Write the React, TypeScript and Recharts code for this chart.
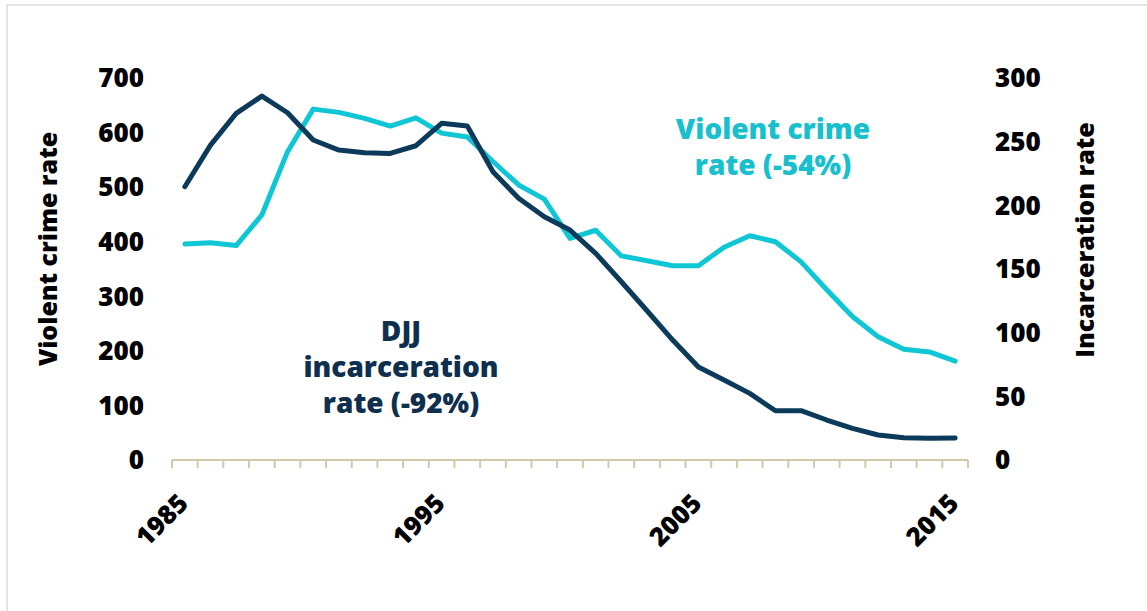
import { LineChart, Line, XAxis, YAxis } from 'recharts'

const years = [
  1985, 1986, 1987, 1988, 1989, 1990, 1991, 1992, 1993, 1994, 1995, 1996, 1997, 1998, 1999, 2000,
  2001, 2002, 2003, 2004, 2005, 2006, 2007, 2008, 2009, 2010, 2011, 2012, 2013, 2014, 2015,
]

// violent crime rate, left axis
const violentCrime = [
  396, 398, 393, 449, 565, 643, 637, 626, 612, 627, 599, 592, 547, 504, 478, 406,
  421, 374, 365, 356, 356, 390, 411, 400, 363, 312, 263, 226, 203, 198, 181,
]

// DJJ incarceration rate, right axis
const incarceration = [
  214.6, 247.3, 272.2, 285.8, 272.7, 251.3, 243.4, 241.3, 240.8, 246.8, 264.4, 262.3, 226.4, 205.5,
  191, 180.6, 162.3, 140, 117.2, 94.2, 73, 62.8, 52.3, 38.7, 38.7, 31.4, 24.8, 19.6, 17.5, 17, 17.2,
]

const leftTicks = [0, 100, 200, 300, 400, 500, 600, 700]
const rightTicks = [0, 50, 100, 150, 200, 250, 300]
const yearLabels = [1985, 1995, 2005, 2015]
// tick marks sit between the categories, like the source chart
const tickMarks = [...years.map((y) => y - 0.5), 2015.5]

const data = years.map((year, i) => ({
  year,
  crime: violentCrime[i],
  djj: incarceration[i],
}))

const FONT = "'Open Sans', sans-serif"
const CYAN = '#0fc6d4'
const NAVY = '#0c3a5b'
const AXIS = '#d2c9a7'

const tickStyle = { fill: '#000', fontSize: 26, fontWeight: 800, fontFamily: FONT }

function YearTick({ x, y, payload }: any) {
  const tx = x + 5
  const ty = y + 35
  return (
    <text
      x={tx}
      y={ty}
      transform={`rotate(-45, ${tx}, ${ty})`}
      textAnchor="end"
      fill="#000"
      fontSize={26}
      fontWeight={800}
      fontFamily={FONT}
    >
      {payload.value}
    </text>
  )
}

const NoLabel = () => <g />

export default function App() {
  return (
    <div style={{ position: 'absolute', left: 0, top: 0, width: 1147, height: 611, background: '#fff', overflow: 'hidden' }}>
      <div
        style={{
          position: 'absolute',
          left: 6,
          top: 4,
          width: 1200,
          height: 700,
          borderTop: '2px solid #e4e4e4',
          borderLeft: '2px solid #e4e4e4',
        }}
      />
      <LineChart
        width={1147}
        height={611}
        data={data}
        margin={{ top: 78, right: 79, bottom: 81, left: 72 }}
        style={{ position: 'absolute', left: 0, top: 0 }}
      >
        <XAxis
          xAxisId="marks"
          dataKey="year"
          type="number"
          domain={[1984.5, 2015.5]}
          allowDataOverflow
          ticks={tickMarks}
          interval={0}
          tick={<NoLabel />}
          tickSize={8}
          height={10}
          axisLine={{ stroke: AXIS, strokeWidth: 2 }}
          tickLine={{ stroke: AXIS, strokeWidth: 2 }}
        />
        <XAxis
          xAxisId="yr"
          dataKey="year"
          type="number"
          domain={[1984.5, 2015.5]}
          allowDataOverflow
          ticks={yearLabels}
          interval={0}
          tick={<YearTick />}
          tickSize={0}
          tickMargin={0}
          height={60}
          axisLine={false}
          tickLine={false}
        />
        <YAxis
          yAxisId="left"
          domain={[0, 700]}
          ticks={leftTicks}
          interval={0}
          width={100}
          axisLine={false}
          tickLine={false}
          tickSize={0}
          tickMargin={28}
          tick={tickStyle}
        />
        <YAxis
          yAxisId="right"
          orientation="right"
          domain={[0, 300]}
          ticks={rightTicks}
          interval={0}
          width={100}
          axisLine={false}
          tickLine={false}
          tickSize={0}
          tickMargin={27}
          tick={{ ...tickStyle, textAnchor: 'start' }}
        />
        <Line
          xAxisId="yr"
          yAxisId="left"
          dataKey="crime"
          type="linear"
          stroke={CYAN}
          strokeWidth={5}
          strokeLinecap="round"
          strokeLinejoin="round"
          dot={false}
          isAnimationActive={false}
        />
        <Line
          xAxisId="yr"
          yAxisId="right"
          dataKey="djj"
          type="linear"
          stroke={NAVY}
          strokeWidth={5}
          strokeLinecap="round"
          strokeLinejoin="round"
          dot={false}
          isAnimationActive={false}
        />
      </LineChart>
      <svg width={1147} height={611} style={{ position: 'absolute', left: 0, top: 0, pointerEvents: 'none' }}>
        <text
          transform="translate(57, 249) rotate(-90)"
          textAnchor="middle"
          fill="#000"
          fontSize={25}
          fontWeight={800}
          fontFamily={FONT}
        >
          Violent crime rate
        </text>
        <text
          transform="translate(1094, 240) rotate(-90)"
          textAnchor="middle"
          fill="#000"
          fontSize={25}
          fontWeight={800}
          fontFamily={FONT}
        >
          Incarceration rate
        </text>
        <g fill="#18c0cd" fontSize={28} fontWeight={800} fontFamily={FONT} textAnchor="middle">
          <text x={773} y={139}>Violent crime</text>
          <text x={773} y={175}>rate (-54%)</text>
        </g>
        <g fill="#0f2f4e" fontSize={28} fontWeight={800} fontFamily={FONT} textAnchor="middle">
          <text x={401} y={341}>DJJ</text>
          <text x={401} y={377}>incarceration</text>
          <text x={401} y={413}>rate (-92%)</text>
        </g>
      </svg>
    </div>
  )
}
